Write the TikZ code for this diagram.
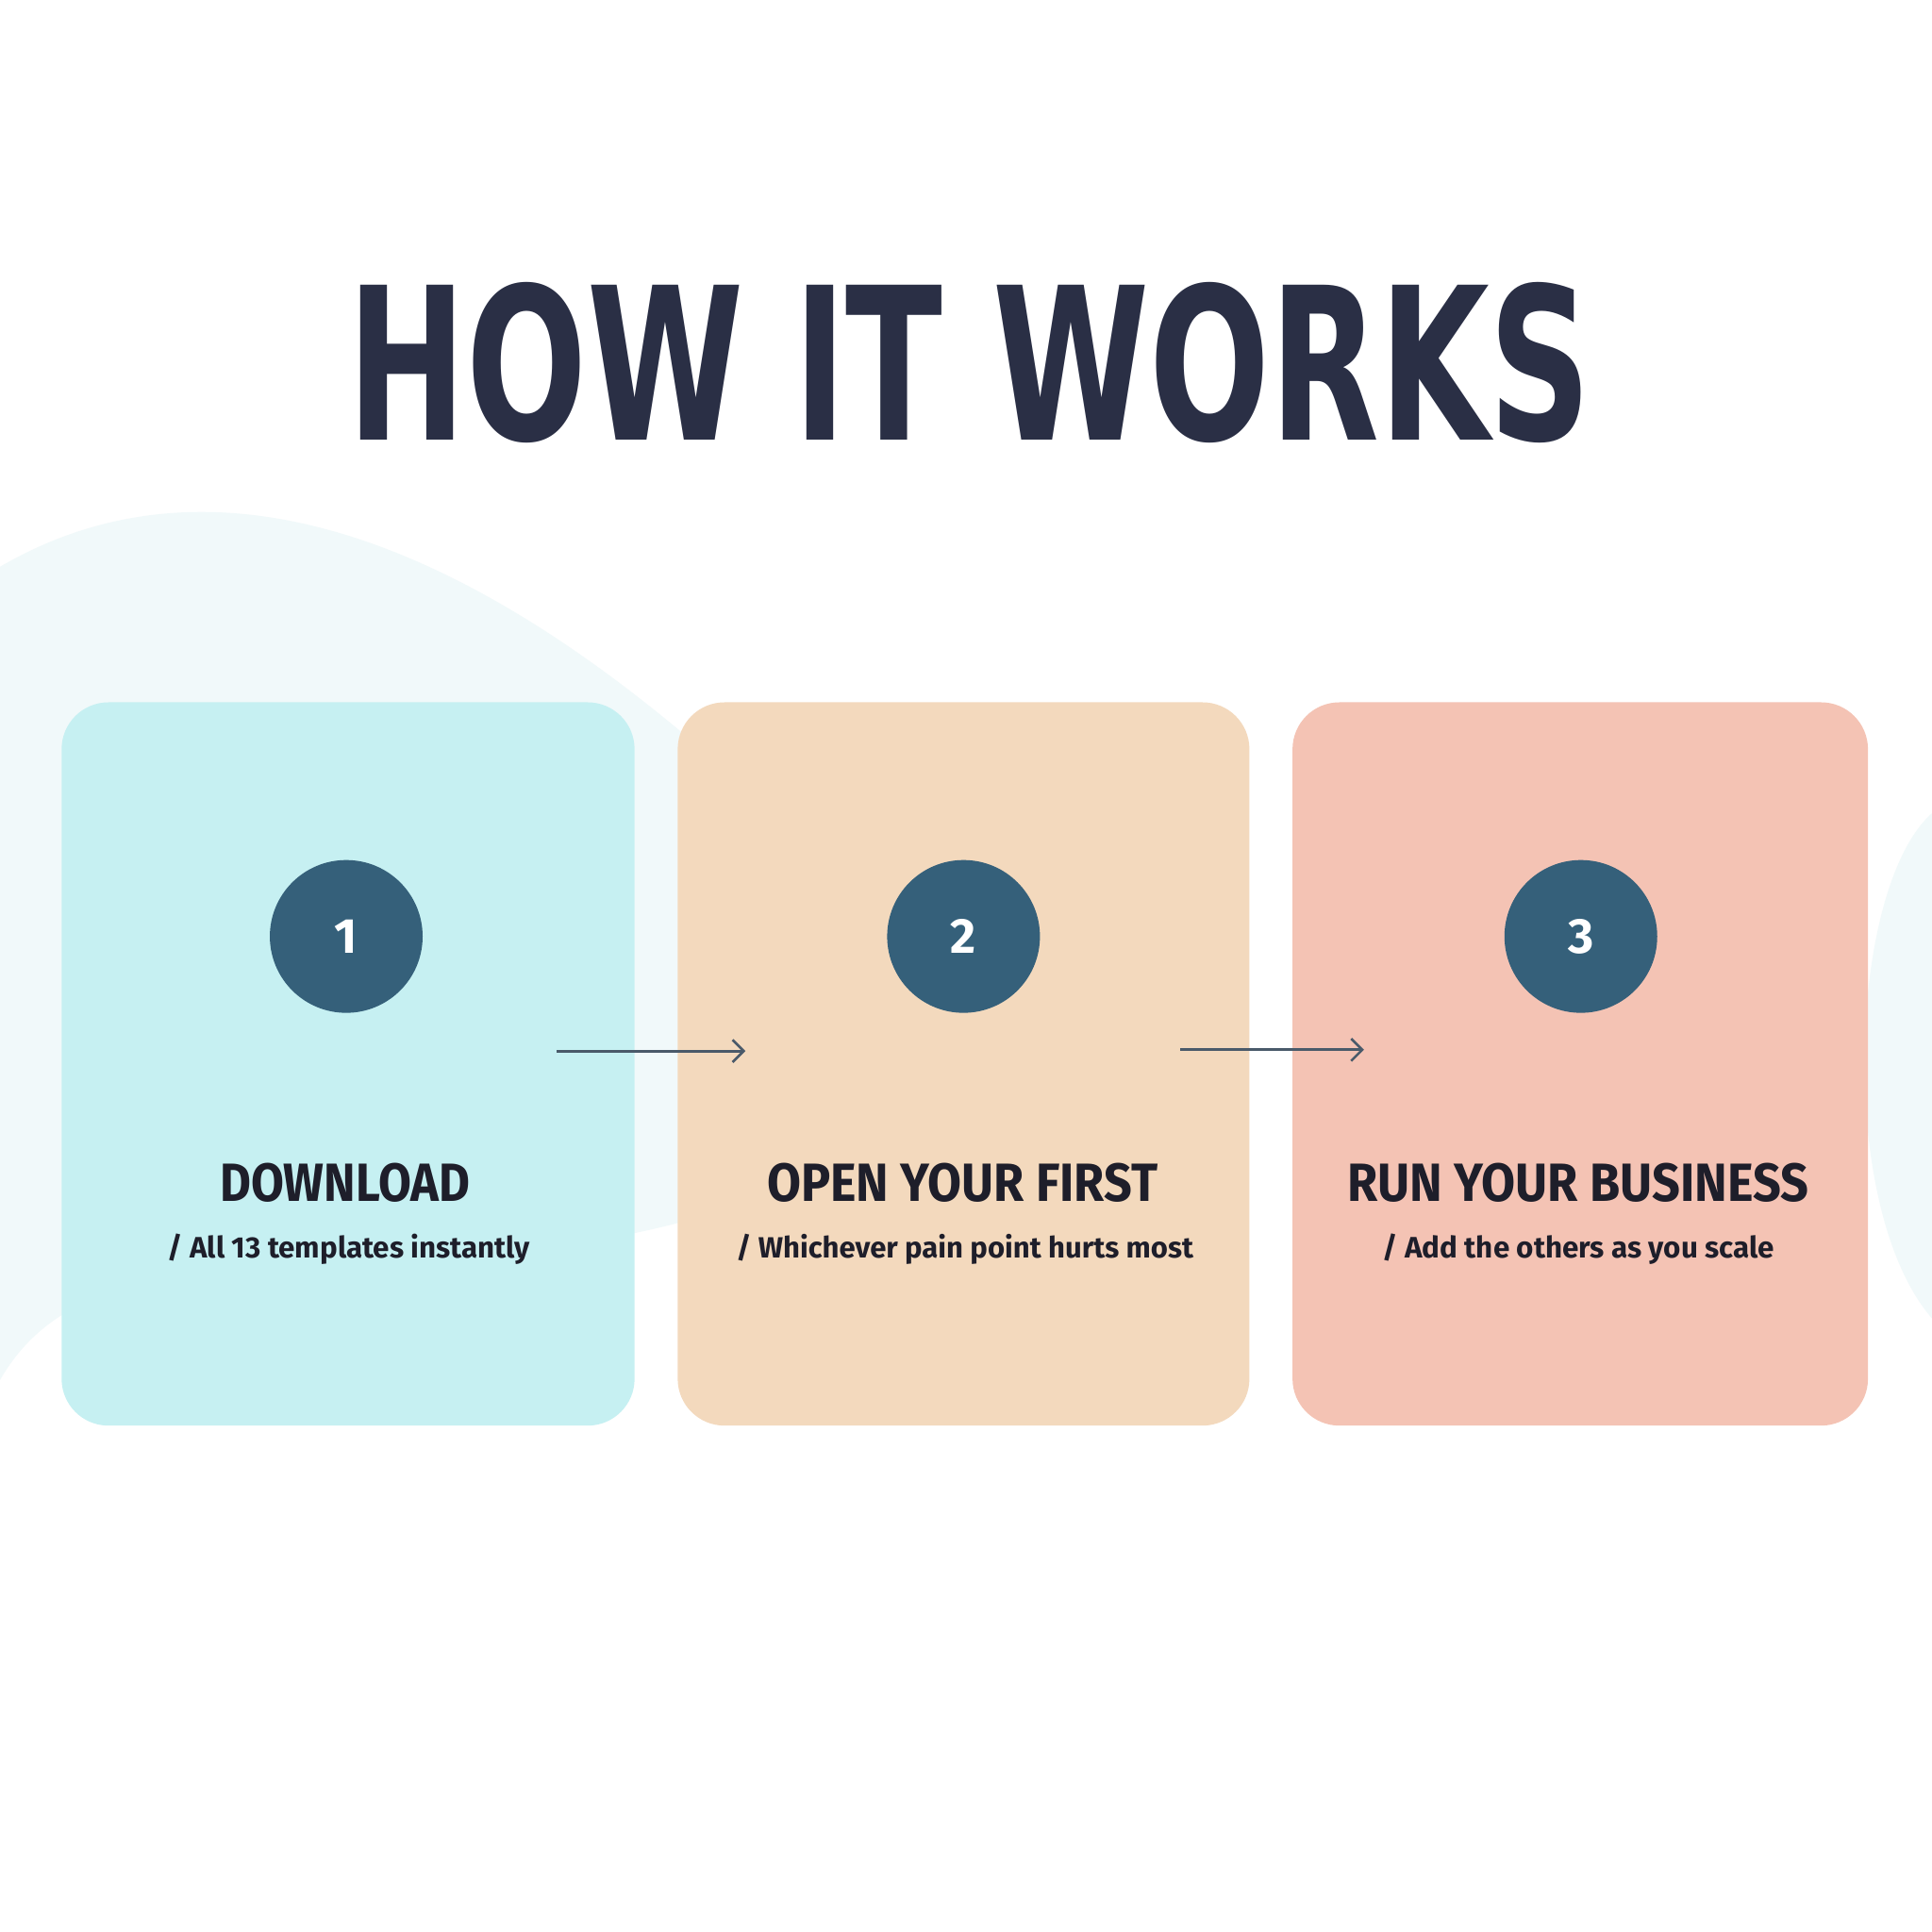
\documentclass[tikz,border=0pt]{standalone}
\usepackage{fontspec}
\setmainfont{Fira Sans}
\newfontfamily\headfont{DejaVu Sans Condensed}
\usetikzlibrary{positioning,arrows.meta}
\definecolor{inkdark}{HTML}{2A2F45}
\definecolor{inktext}{HTML}{1E1E2A}
\definecolor{cardA}{HTML}{C6F0F2}
\definecolor{cardB}{HTML}{F3D9BD}
\definecolor{cardC}{HTML}{F4C3B4}
\definecolor{dotblue}{HTML}{35607A}
\definecolor{arrowgrey}{HTML}{4A5A6A}
\definecolor{blob}{HTML}{F1F9FA}
\tikzset{
  card/.style={rounded corners=38pt},
  stepdot/.style={circle,fill=dotblue,minimum size=124pt,inner sep=0pt,text=white,font=\bfseries\fontsize{40}{40}\selectfont},
  steptitle/.style={inner sep=0pt,text=inktext},
  stepsub/.style={inner sep=0pt,text=inktext},
  flow/.style={arrowgrey,line width=2.2pt,-{Straight Barb[length=9pt,width=18pt,line width=2pt]}}
}
\begin{document}
\begin{tikzpicture}[x=1pt,y=-1pt]
\useasboundingbox (0,0) rectangle (1568,1568);
\fill[white] (0,0) rectangle (1568,1568);
% soft background shapes
\fill[blob] (0,460) .. controls (120,390) and (300,380) .. (560,600) -- (560,990) .. controls (300,1060) and (80,980) .. (0,1120) -- cycle;
\fill[blob] (1568,660) .. controls (1500,720) and (1490,980) .. (1568,1070) -- cycle;
% heading
\node[inner sep=0pt,text=inkdark] (heading) at (787,294) {\resizebox{1009pt}{128pt}{\headfont\bfseries HOW IT WORKS}};
% cards
\fill[card,cardA] (50,570) rectangle (515,1157);
\fill[card,cardB] (550,570) rectangle (1014,1157);
\fill[card,cardC] (1049,570) rectangle (1516,1157);
% numbers
\node[stepdot] (dot1) at (281,760) {1};
\node[stepdot] (dot2) at (782,760) {2};
\node[stepdot] (dot3) at (1283,760) {3};
% arrows
\coordinate (a1s) at (452,853);
\coordinate (a1e) at (605,853);
\coordinate (a2s) at (958,852);
\coordinate (a2e) at (1107,852);
\draw[flow] (a1s) -- (a1e);
\draw[flow] (a2s) -- (a2e);
% titles
\node[steptitle] (title1) at (280,960) {\resizebox{203pt}{31pt}{\bfseries DOWNLOAD}};
\node[steptitle] (title2) at (781,960) {\resizebox{317pt}{31pt}{\bfseries OPEN YOUR FIRST}};
\node[steptitle] (title3) at (1281,960) {\resizebox{374pt}{31pt}{\bfseries RUN YOUR BUSINESS}};
% subtitles
\node[stepsub,anchor=base] (sub1) at (283,1021) {\resizebox{294pt}{!}{\fontseries{sb}\selectfont / All 13 templates instantly}};
\node[stepsub,anchor=base] (sub2) at (783,1021) {\resizebox{371pt}{!}{\fontseries{sb}\selectfont / Whichever pain point hurts most}};
\node[stepsub,anchor=base] (sub3) at (1281,1021) {\resizebox{318pt}{!}{\fontseries{sb}\selectfont / Add the others as you scale}};
\end{tikzpicture}
\end{document}
